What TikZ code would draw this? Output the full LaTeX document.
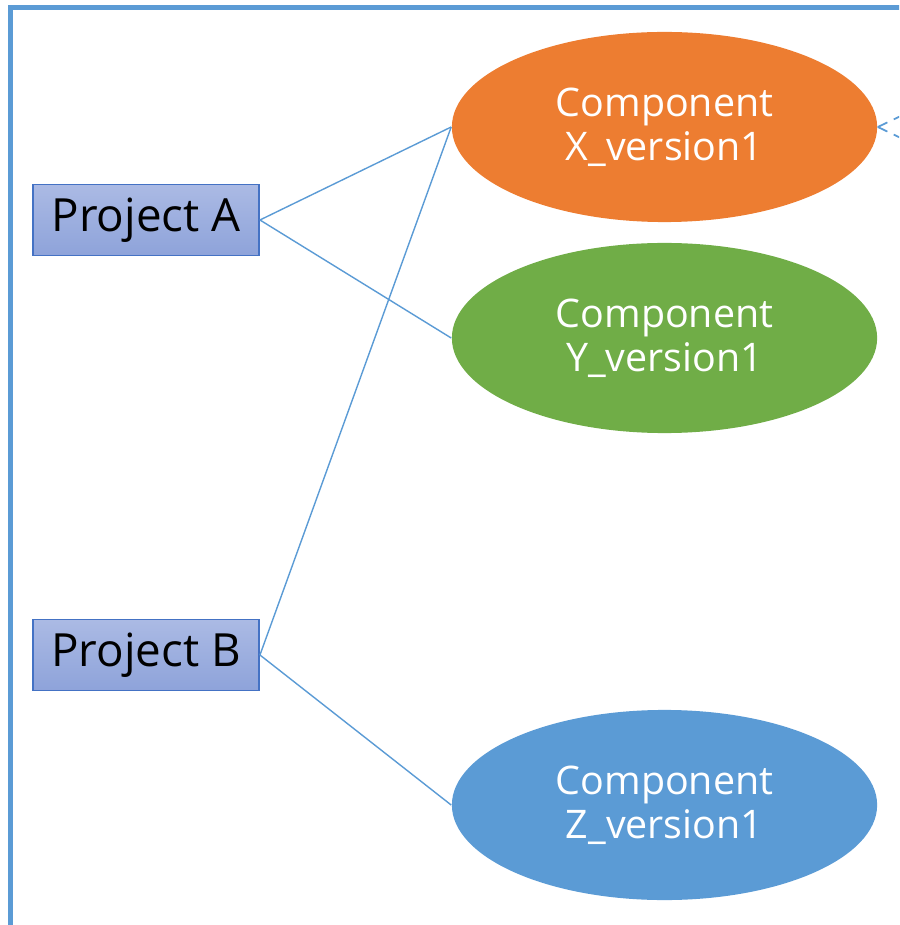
\documentclass[tikz,border=0pt]{standalone}
\usepackage{fontspec}
\setmainfont{Open Sans}
\usetikzlibrary{shapes.geometric, positioning}
\definecolor{frameblue}{HTML}{5B9BD5}
\definecolor{projtop}{HTML}{ABBAE4}
\definecolor{projbot}{HTML}{8EA3DA}
\definecolor{projedge}{HTML}{4472C4}
\definecolor{compx}{HTML}{ED7D31}
\definecolor{compy}{HTML}{70AD47}
\definecolor{compz}{HTML}{5B9BD5}
\tikzset{
  project/.style={rectangle, draw=projedge, line width=0.5pt, top color=projtop, bottom color=projbot,
                  minimum width=2.26cm, minimum height=0.71cm, inner sep=0pt,
                  font=\fontsize{13}{15}\selectfont, text=black},
  comp/.style={ellipse, fill=#1, draw=none, minimum width=4.25cm, minimum height=1.9cm, inner sep=0pt,
               align=center, font=\fontsize{11.2}{12.4}\selectfont, text=white},
  link/.style={draw=frameblue, line width=0.4pt},
  reuse/.style={draw=frameblue, line width=0.5pt, dash pattern=on 3pt off 2pt},
}
\begin{document}
\begin{tikzpicture}[x=0.01cm, y=-0.01cm]
  \clip (0,0) rectangle (899,925);
  % outer frame, runs past the right and bottom edge
  \draw[frameblue, line width=0.05cm] (10.5,7.5) rectangle (1100,1100);

  \node[project] (pa) at (146,220) {Project A};
  \node[project] (pb) at (146,655) {Project B};

  \node[comp=compx] (cx) at (664.5,127) {Component\\X\_version1};
  \node[comp=compy] (cy) at (664.5,338) {Component\\Y\_version1};
  \node[comp=compz] (cz) at (664.5,805) {Component\\Z\_version1};

  \draw[link] (pa.east) -- (cx.west);
  \draw[link] (pa.east) -- (cy.west);
  \draw[link] (pb.east) -- (cx.west);
  \draw[link] (pb.east) -- (cz.west);

  \coordinate (up) at (930,102);
  \coordinate (down) at (930,152);
  \draw[reuse] (cx.east) -- (up);
  \draw[reuse] (cx.east) -- (down);
\end{tikzpicture}
\end{document}
